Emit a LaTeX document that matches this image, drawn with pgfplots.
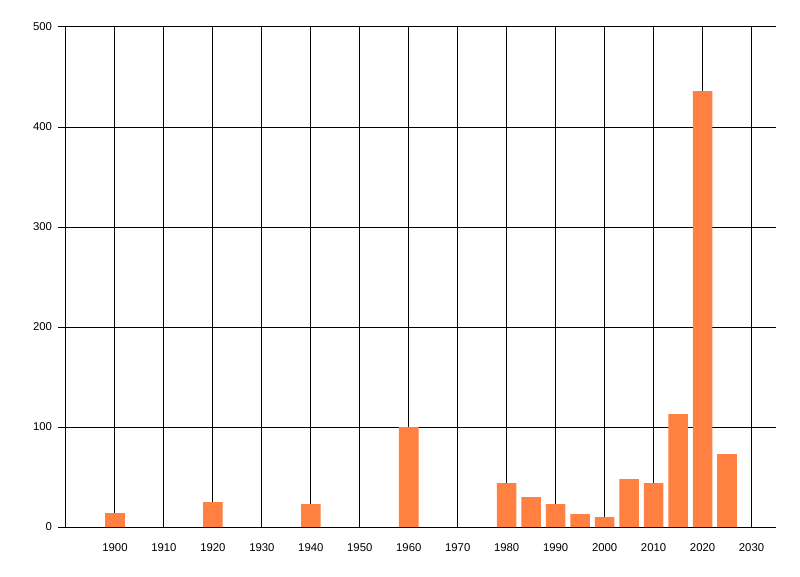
\documentclass[border=0pt]{standalone}
\usepackage{pgfplots}
\pgfplotsset{compat=1.18}
\usepackage{fontspec}
\setmainfont{Liberation Sans}
\definecolor{barorange}{RGB}{255,128,65}

\pgfplotstableread{
year count
1900 14
1920 25
1940 23
1960 100
1980 44
1985 30
1990 23
1995 13
2000 10
2005 48
2010 44
2015 113
2020 436
2025 73
}\datatable

\begin{document}
\begin{tikzpicture}
\useasboundingbox (0pt,0pt) rectangle (600pt,432pt);
\begin{axis}[
  at={(49.5pt,36.75pt)}, anchor=south west,
  scale only axis,
  width=532.5pt, height=375pt,
  xmin=1890, xmax=2035,
  ymin=0, ymax=500,
  axis lines=left,
  axis line style={-, line width=0.75pt, black},
  xtick={1900,1910,...,2030},
  ytick={0,100,...,500},
  xtick style={draw=none},
  ytick style={line width=0.75pt, black},
  tick align=outside,
  major tick length=6pt,
  grid=major,
  grid style={line width=0.75pt, black},
  xticklabel style={/pgf/number format/1000 sep={}},
  /pgf/number format/assume math mode=true,
  tick label style={font=\fontsize{8.5}{10}\selectfont},
  xticklabel style={yshift=-3pt},
  yticklabel style={xshift=-1pt},
  ybar, bar width=4,
]
\addplot[fill=barorange, draw=none] table[x=year, y=count] {\datatable};
\end{axis}
\end{tikzpicture}
\end{document}
